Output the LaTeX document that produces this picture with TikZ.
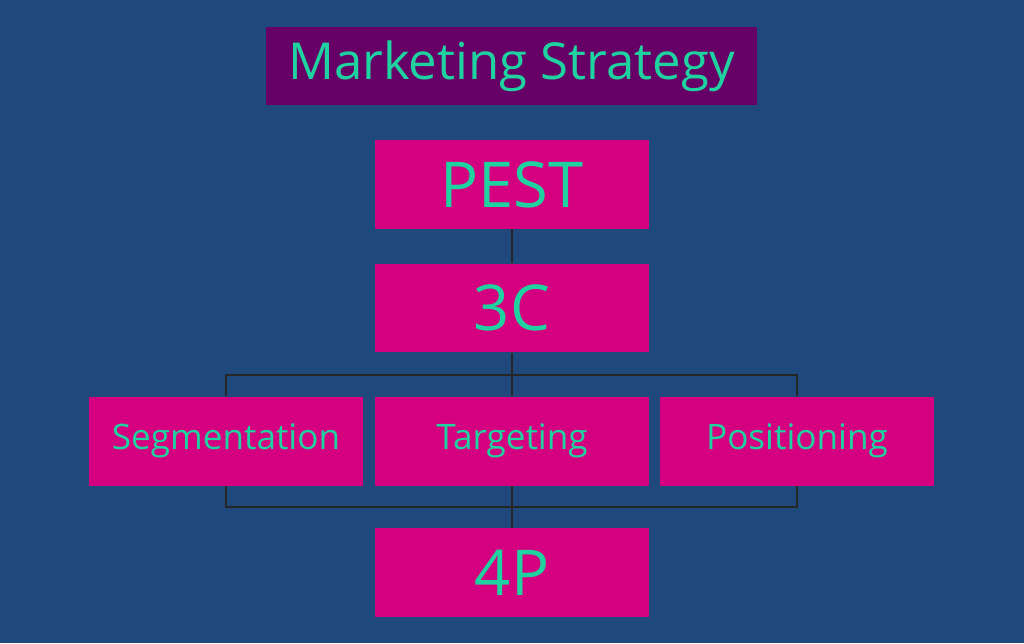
\documentclass[tikz,border=0pt]{standalone}
\usepackage{fontspec}
\setmainfont{Open Sans}
\usepackage{xcolor}
\definecolor{SlideBlue}{HTML}{1F497D}
\definecolor{TitlePurple}{HTML}{660066}
\definecolor{BoxMagenta}{HTML}{D5007F}
\definecolor{TextGreen}{HTML}{1ED3A0}
\definecolor{LinkGray}{HTML}{262626}
\usetikzlibrary{positioning, calc}
\tikzset{
  % Box styles
  titlebox/.style={rectangle, fill=TitlePurple, text=TextGreen, minimum width=9.82cm, minimum height=1.56cm, font=\fontsize{29}{34}\selectfont, inner sep=0pt},
  stagebox/.style={rectangle, fill=BoxMagenta, text=TextGreen, minimum width=5.48cm, minimum height=1.78cm, font=\fontsize{36}{40}\selectfont, inner sep=0pt},
  stepbox/.style={stagebox, font=\fontsize{20}{24}\selectfont},
  % Line styles
  link/.style={draw=LinkGray, line width=1.2pt}
}
\begin{document}
\begin{tikzpicture}[x=0.02cm, y=-0.02cm]
  % Background
  \fill[SlideBlue] (0,0) rectangle (1024,643);
  \useasboundingbox (0,0) rectangle (1024,643);

  % Boxes
  \node[titlebox] (title) at (511.5,66) {Marketing Strategy};
  \node[stagebox] (pest) at (512,184.5) {PEST};
  \node[stagebox] (threec) at (512,308) {3C};
  \node[stepbox] (seg) at (226,441) {Segmentation};
  \node[stepbox] (tgt) at (512,441) {Targeting};
  \node[stepbox] (pos) at (797,441) {Positioning};
  \node[stagebox] (fourp) at (512,572.5) {4P};

  % Connectors
  \coordinate (topbar) at (512,375);
  \coordinate (lowbar) at (512,507);
  \draw[link] (pest.south) -- (threec.north);
  \draw[link] (threec.south) -- (topbar);
  \draw[link] (seg.north) |- (topbar) -| (pos.north);
  \draw[link] (topbar) -- (tgt.north);
  \draw[link] (seg.south) |- (lowbar) -| (pos.south);
  \draw[link] (tgt.south) -- (fourp.north);
\end{tikzpicture}
\end{document}
